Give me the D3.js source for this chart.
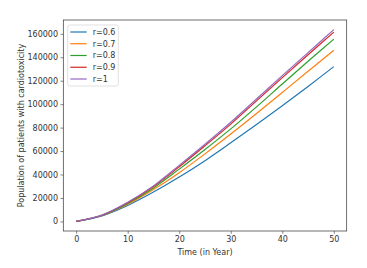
<!DOCTYPE html>
<html><head><meta charset="utf-8">
<script src="https://cdn.jsdelivr.net/npm/d3@7"></script>
<style>body{margin:0;background:#fff}svg{display:block}text{font-family:"DejaVu Sans",sans-serif;fill:#333}</style>
</head><body><div id="chart"></div>
<script>
const years = [0,5,10,15,20,25,30,35,40,45,50];
const labels = ["r=0.6","r=0.7","r=0.8","r=0.9","r=1"];
const colors = ["#1f77b4","#ff7f0e","#2ca02c","#d62728","#9467bd"];
const r06 = [0,4700,13600,25000,37800,51800,67000,82600,98600,115100,132000];
const r07 = [0,5000,14600,27200,41600,57600,74500,92000,110000,128000,146000];
const r08 = [0,5200,15400,28600,44600,61300,78900,97700,117200,136600,155500];
const r09 = [0,5300,15900,29700,46600,64500,83000,102800,122600,142200,161400];
const r10 = [0,5400,16300,30300,47800,65800,84600,104400,124300,144000,163600];
const yTicks = [0,20000,40000,60000,80000,100000,120000,140000,160000];
const xTicks = [0,10,20,30,40,50];
const series = [r06,r07,r08,r09,r10];

const W=367,H=268, L=63.3, R=346.7, T=20, B=231;
const svg=d3.select("#chart").append("svg").attr("width",W).attr("height",H);
const x=d3.scaleLinear().domain([-2.5,52.5]).range([L,R]);
const ymax=d3.max(series.flat()), ymin=0, pad=(ymax-ymin)*0.05;
const y=d3.scaleLinear().domain([ymin-pad,ymax+pad]).range([B,T]);

const xa=svg.append("g").attr("transform",`translate(0,${B})`)
  .call(d3.axisBottom(x).tickValues(xTicks).tickSize(2.8).tickPadding(2.5).tickFormat(d3.format("d")));
const ya=svg.append("g").attr("transform",`translate(${L},0)`)
  .call(d3.axisLeft(y).tickValues(yTicks).tickSize(2.8).tickPadding(2.5).tickFormat(d3.format("d")));
[xa,ya].forEach(a=>{a.select(".domain").remove();a.selectAll("line").attr("stroke","#333").attr("stroke-width",0.6);
  a.selectAll("text").attr("font-size",8).attr("font-family","DejaVu Sans").style("fill","#333");});

const line=d3.line().x((d,i)=>x(years[i])).y(d=>y(d)).curve(d3.curveCatmullRom.alpha(0.5));
series.forEach((s,i)=>svg.append("path").attr("d",line(s)).attr("fill","none").attr("stroke",colors[i]).attr("stroke-width",1.2));

svg.append("rect").attr("x",L).attr("y",T).attr("width",R-L).attr("height",B-T).attr("fill","none").attr("stroke","#333").attr("stroke-width",0.7);

svg.append("text").attr("x",(L+R)/2).attr("y",255).attr("text-anchor","middle").attr("font-size",8).text("Time (in Year)");
svg.append("text").attr("transform",`translate(23.5,${(T+B)/2}) rotate(-90)`).attr("text-anchor","middle").attr("font-size",8).text("Population of patients with cardiotoxicity");

const lg=svg.append("g");
lg.append("rect").attr("x",67.7).attr("y",25).attr("width",50.6).attr("height",61).attr("rx",2)
  .attr("fill","#fff").attr("fill-opacity",0.8).attr("stroke","#ccc").attr("stroke-width",0.6);
labels.forEach((lab,i)=>{
  const yy=32+i*11.75;
  lg.append("line").attr("x1",70.3).attr("x2",86.7).attr("y1",yy).attr("y2",yy).attr("stroke",colors[i]).attr("stroke-width",1.2);
  lg.append("text").attr("x",92.7).attr("y",yy).attr("dy","0.35em").attr("font-size",8).text(lab);
});
</script></body></html>
